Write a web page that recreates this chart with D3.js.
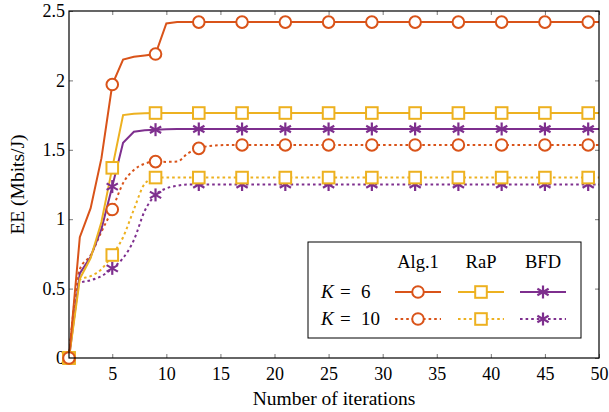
<!DOCTYPE html>
<html>
<head>
<meta charset="utf-8">
<script src="https://cdn.jsdelivr.net/npm/d3@7"></script>
<style>
  html, body { margin: 0; padding: 0; background: #fff; }
  svg { display: block; }
  text { font-family: "Liberation Serif", "DejaVu Serif", serif; fill: #000; }
</style>
</head>
<body>
<svg id="chart" width="609" height="412"></svg>
<script>
// ---- data ----
const iterations = d3.range(1, 51);
const xTicks = [5, 10, 15, 20, 25, 30, 35, 40, 45, 50];
const yTicks = [0, 0.5, 1, 1.5, 2, 2.5];
const yTickLabels = ["0", "0.5", "1", "1.5", "2", "2.5"];
const algorithms = ["Alg.1", "RaP", "BFD"];
const userCounts = ["6", "10"];

const alg1K6 = [0, 0.87, 1.08, 1.44, 1.97, 2.15, 2.17, 2.18, 2.19, 2.41,
  2.42, 2.42, 2.42, 2.42, 2.42, 2.42, 2.42, 2.42, 2.42, 2.42,
  2.42, 2.42, 2.42, 2.42, 2.42, 2.42, 2.42, 2.42, 2.42, 2.42,
  2.42, 2.42, 2.42, 2.42, 2.42, 2.42, 2.42, 2.42, 2.42, 2.42,
  2.42, 2.42, 2.42, 2.42, 2.42, 2.42, 2.42, 2.42, 2.42, 2.42];
const rapK6 = [0, 0.57, 0.72, 0.98, 1.37, 1.75, 1.76, 1.763, 1.765, 1.765,
  1.765, 1.765, 1.765, 1.765, 1.765, 1.765, 1.765, 1.765, 1.765, 1.765,
  1.765, 1.765, 1.765, 1.765, 1.765, 1.765, 1.765, 1.765, 1.765, 1.765,
  1.765, 1.765, 1.765, 1.765, 1.765, 1.765, 1.765, 1.765, 1.765, 1.765,
  1.765, 1.765, 1.765, 1.765, 1.765, 1.765, 1.765, 1.765, 1.765, 1.765];
const bfdK6 = [0, 0.61, 0.73, 0.93, 1.235, 1.55, 1.63, 1.64, 1.645, 1.648,
  1.65, 1.65, 1.65, 1.65, 1.65, 1.65, 1.65, 1.65, 1.65, 1.65,
  1.65, 1.65, 1.65, 1.65, 1.65, 1.65, 1.65, 1.65, 1.65, 1.65,
  1.65, 1.65, 1.65, 1.65, 1.65, 1.65, 1.65, 1.65, 1.65, 1.65,
  1.65, 1.65, 1.65, 1.65, 1.65, 1.65, 1.65, 1.65, 1.65, 1.65];
const alg1K10 = [0, 0.64, 0.74, 0.91, 1.07, 1.26, 1.355, 1.40, 1.415, 1.413,
  1.415, 1.475, 1.51, 1.528, 1.533, 1.535, 1.535, 1.535, 1.535, 1.535,
  1.535, 1.535, 1.535, 1.535, 1.535, 1.535, 1.535, 1.535, 1.535, 1.535,
  1.535, 1.535, 1.535, 1.535, 1.535, 1.535, 1.535, 1.535, 1.535, 1.535,
  1.535, 1.535, 1.535, 1.535, 1.535, 1.535, 1.535, 1.535, 1.535, 1.535];
const rapK10 = [0, 0.565, 0.59, 0.64, 0.742, 0.87, 1.07, 1.255, 1.30, 1.30,
  1.30, 1.30, 1.30, 1.30, 1.30, 1.30, 1.30, 1.30, 1.30, 1.30,
  1.30, 1.30, 1.30, 1.30, 1.30, 1.30, 1.30, 1.30, 1.30, 1.30,
  1.30, 1.30, 1.30, 1.30, 1.30, 1.30, 1.30, 1.30, 1.30, 1.30,
  1.30, 1.30, 1.30, 1.30, 1.30, 1.30, 1.30, 1.30, 1.30, 1.30];
const bfdK10 = [0, 0.54, 0.56, 0.59, 0.646, 0.72, 0.85, 1.06, 1.175, 1.222,
  1.241, 1.25, 1.25, 1.25, 1.25, 1.25, 1.25, 1.25, 1.25, 1.25,
  1.25, 1.25, 1.25, 1.25, 1.25, 1.25, 1.25, 1.25, 1.25, 1.25,
  1.25, 1.25, 1.25, 1.25, 1.25, 1.25, 1.25, 1.25, 1.25, 1.25,
  1.25, 1.25, 1.25, 1.25, 1.25, 1.25, 1.25, 1.25, 1.25, 1.25];

const series = [
  { values: bfdK10, alg: 2, k: 1 },
  { values: rapK10, alg: 1, k: 1 },
  { values: alg1K10, alg: 0, k: 1 },
  { values: bfdK6, alg: 2, k: 0 },
  { values: rapK6, alg: 1, k: 0 },
  { values: alg1K6, alg: 0, k: 0 }
];

// ---- style ----
const colors = ["#D95319", "#EDB120", "#7E2F8E"];
const markerTypes = ["circle", "square", "asterisk"];
const dash = [null, "2.6,3"];

const svg = d3.select("#chart");
const margin = { left: 69, right: 10, top: 11, bottom: 54 };
const W = 609, H = 412;
const x = d3.scaleLinear().domain([1, 50]).range([margin.left, W - margin.right]);
const y = d3.scaleLinear().domain([0, 2.5]).range([H - margin.bottom, margin.top]);

function drawMarker(g, type, cx, cy, color) {
  if (type === "circle") {
    g.append("circle").attr("cx", cx).attr("cy", cy).attr("r", 5.8)
      .attr("fill", "white").attr("stroke", color).attr("stroke-width", 2);
  } else if (type === "square") {
    g.append("rect").attr("x", cx - 5.8).attr("y", cy - 5.8).attr("width", 11.6).attr("height", 11.6)
      .attr("fill", "white").attr("stroke", color).attr("stroke-width", 2);
  } else {
    const r = 6.5;
    [90, 30, 150].forEach(a => {
      const rad = a * Math.PI / 180;
      g.append("line")
        .attr("x1", cx - r * Math.cos(rad)).attr("y1", cy - r * Math.sin(rad))
        .attr("x2", cx + r * Math.cos(rad)).attr("y2", cy + r * Math.sin(rad))
        .attr("stroke", color).attr("stroke-width", 2.2);
    });
  }
}

// ---- axes ----
const axisG = svg.append("g");
const xAxisB = d3.axisBottom(x).tickValues(xTicks).tickSizeInner(-4).tickSizeOuter(0).tickPadding(9).tickFormat(d3.format("d"));
const xAxisT = d3.axisTop(x).tickValues(xTicks).tickSizeInner(-4).tickSizeOuter(0).tickFormat("");
const yAxisL = d3.axisLeft(y).tickValues(yTicks).tickSizeInner(-4).tickSizeOuter(0).tickPadding(4)
  .tickFormat((d, i) => yTickLabels[i]);
const yAxisR = d3.axisRight(y).tickValues(yTicks).tickSizeInner(-4).tickSizeOuter(0).tickFormat("");

function styleAxis(g) {
  g.select(".domain").remove();
  g.selectAll(".tick line").attr("stroke", "#555").attr("stroke-width", 0.8);
  g.selectAll(".tick text").style("font-family", '"Liberation Serif", serif').style("font-size", "18px").attr("fill", "#000");
}
axisG.append("g").attr("transform", `translate(0,${y(0)})`).call(xAxisB).call(styleAxis);
axisG.append("g").attr("transform", `translate(0,${y(2.5)})`).call(xAxisT).call(styleAxis);
axisG.append("g").attr("transform", `translate(${x(1)},0)`).call(yAxisL).call(styleAxis);
axisG.append("g").attr("transform", `translate(${x(50)},0)`).call(yAxisR).call(styleAxis);

// ---- lines ----
const plotG = svg.append("g");
series.forEach(s => {
  const line = d3.line()
    .x((d, i) => x(iterations[i]))
    .y(d => y(d))
    .curve(s.k === 1 ? d3.curveMonotoneX : d3.curveLinear);
  plotG.append("path").datum(s.values)
    .attr("d", line)
    .attr("fill", "none")
    .attr("stroke", colors[s.alg])
    .attr("stroke-width", 2)
    .attr("stroke-dasharray", dash[s.k]);
});
series.forEach(s => {
  const g = plotG.append("g");
  s.values.forEach((v, i) => {
    if ((iterations[i] - 1) % 4 === 0) drawMarker(g, markerTypes[s.alg], x(iterations[i]), y(v), colors[s.alg]);
  });
});

// frame
svg.append("rect")
  .attr("x", x(1)).attr("y", y(2.5))
  .attr("width", x(50) - x(1)).attr("height", y(0) - y(2.5))
  .attr("fill", "none").attr("stroke", "#000").attr("stroke-width", 1.2);

// axis labels
svg.append("text").attr("x", (x(1) + x(50)) / 2).attr("y", 405)
  .attr("text-anchor", "middle").style("font-size", "19.5px").text("Number of iterations");
svg.append("text").attr("transform", `translate(24,${(y(0) + y(2.5)) / 2}) rotate(-90)`)
  .attr("text-anchor", "middle").style("font-size", "19.5px").text("EE (Mbits/J)");

// ---- legend ----
const leg = svg.append("g");
leg.append("rect").attr("x", 308).attr("y", 242).attr("width", 273).attr("height", 96)
  .attr("fill", "white").attr("stroke", "#000").attr("stroke-width", 1);
const colX = [418, 481, 543];
const rowY = [292, 319];
algorithms.forEach((a, i) => {
  leg.append("text").attr("x", colX[i]).attr("y", 268).attr("text-anchor", "middle")
    .style("font-size", "18.5px").text(a);
});
userCounts.forEach((k, r) => {
  leg.append("text").attr("x", 321).attr("y", rowY[r] + 6).style("font-size", "19px")
    .style("font-style", "italic").text("K");
  leg.append("text").attr("x", 340).attr("y", rowY[r] + 6).style("font-size", "19px").text("=");
  leg.append("text").attr("x", 361).attr("y", rowY[r] + 6).style("font-size", "19px").text(k);
  algorithms.forEach((a, i) => {
    leg.append("line").attr("x1", colX[i] - 23).attr("x2", colX[i] + 23)
      .attr("y1", rowY[r]).attr("y2", rowY[r])
      .attr("stroke", colors[i]).attr("stroke-width", 2).attr("stroke-dasharray", dash[r]);
    drawMarker(leg, markerTypes[i], colX[i], rowY[r], colors[i]);
  });
});
</script>
</body>
</html>
